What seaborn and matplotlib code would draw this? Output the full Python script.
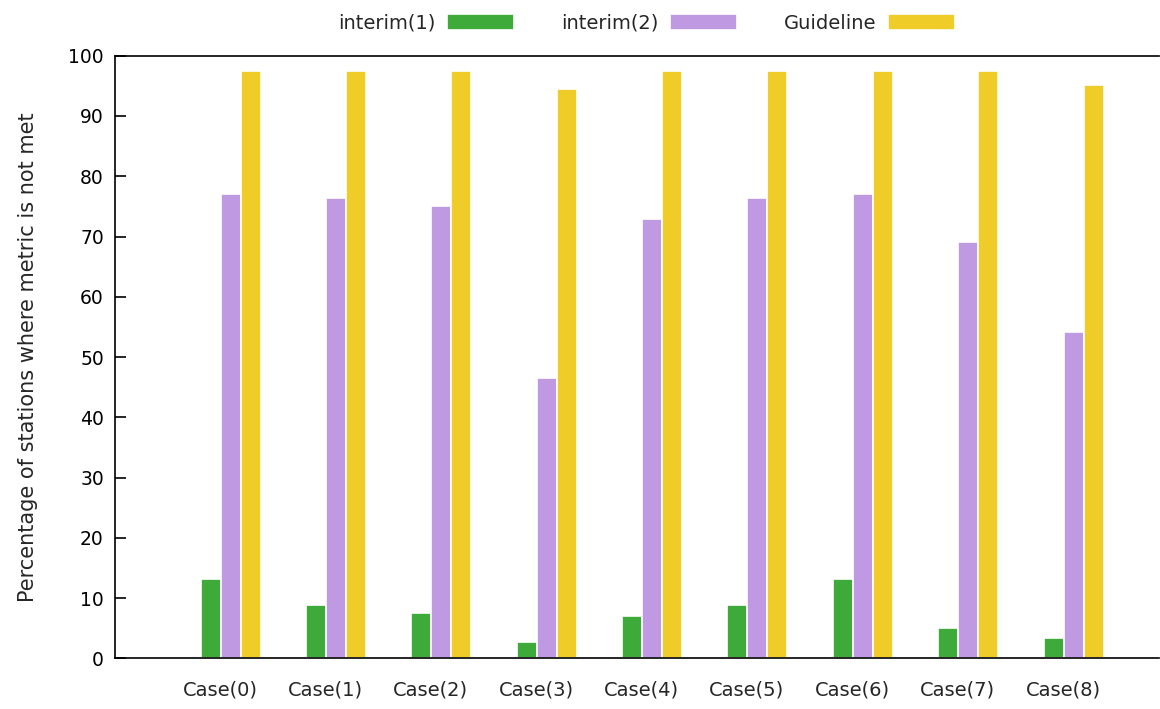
import numpy as np
import pandas as pd
import matplotlib
matplotlib.use("Agg")
import matplotlib.pyplot as plt
import seaborn as sns

# Data
cases = ["Case(0)", "Case(1)", "Case(2)", "Case(3)", "Case(4)",
         "Case(5)", "Case(6)", "Case(7)", "Case(8)"]
interim1 = [13.2, 8.9, 7.6, 2.7, 7.0, 8.9, 13.2, 5.1, 3.3]
interim2 = [77.0, 76.4, 75.1, 46.6, 72.9, 76.4, 77.0, 69.1, 54.2]
guideline = [97.5, 97.5, 97.5, 94.4, 97.5, 97.5, 97.5, 97.5, 95.1]
series_names = ["interim(1)", "interim(2)", "Guideline"]
colors = ["#3daa3a", "#c099e3", "#f0cc28"]

# long format for seaborn
df = pd.DataFrame({
    "case": cases * 3,
    "value": interim1 + interim2 + guideline,
    "series": [series_names[0]] * 9 + [series_names[1]] * 9 + [series_names[2]] * 9,
})

sns.set_style("white")
plt.rcParams["font.family"] = ["DejaVu Sans"]

fig = plt.figure(figsize=(11.6, 7.09), dpi=100)
ax = fig.add_axes([0.0991, 0.0715, 0.90, 0.8499])

sns.barplot(data=df, x="case", y="value", hue="series", order=cases,
            hue_order=series_names, palette=colors, width=0.57,
            edgecolor="white", linewidth=1.2, saturation=1, ax=ax)

ax.set_ylim(0, 100)
ax.set_xlim(-1.097, 8.81)
ax.set_yticks(np.arange(0, 101, 10))
ax.tick_params(axis="y", direction="in", length=8, width=1.2, labelsize=13.5,
               left=True, pad=8, colors="black")
ax.set_xticks(np.arange(len(cases)) - 0.1)
ax.set_xticklabels(cases)
ax.tick_params(axis="x", length=0, labelsize=14, pad=16)
ax.set_xlabel("")
ax.set_ylabel("Percentage of stations where metric is not met", fontsize=15, labelpad=22)

for side in ["left", "bottom", "top"]:
    ax.spines[side].set_color("black")
    ax.spines[side].set_linewidth(1.2)
ax.spines["right"].set_visible(False)

handles, labels = ax.get_legend_handles_labels()
ax.legend(handles, labels, loc="center", bbox_to_anchor=(0.509, 1.054), ncol=3,
          frameon=False, markerfirst=False, fontsize=14, handlelength=3.45,
          handleheight=0.95, handletextpad=0.6, columnspacing=2.4)

plt.savefig("out.png", dpi=100)
plt.close()
